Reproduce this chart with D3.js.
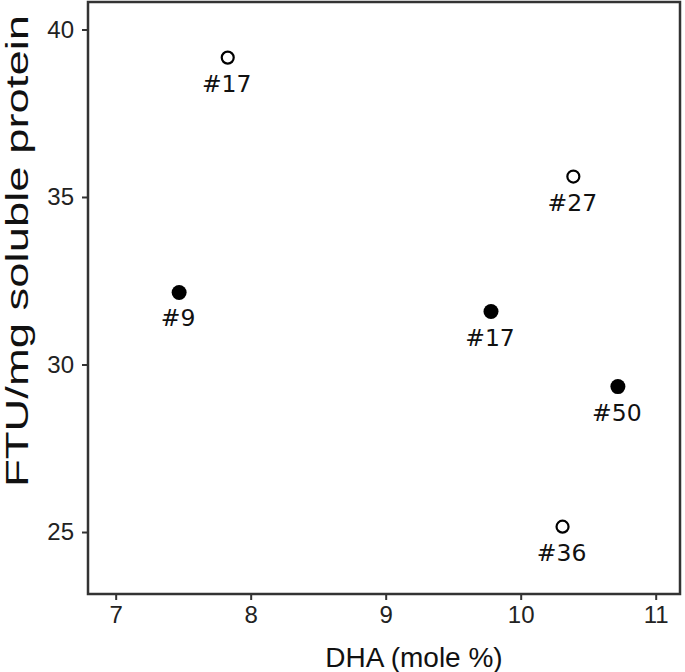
<!DOCTYPE html>
<html>
<head>
<meta charset="utf-8">
<script src="https://cdn.jsdelivr.net/npm/d3@7"></script>
<style>
  body { margin: 0; background: #fff; }
  svg { display: block; }
</style>
</head>
<body>
<svg id="chart" width="685" height="672"></svg>
<script>
// sample labels, DHA (mole %), FTU/mg soluble protein, open/filled marker
const sampleLabels = ['#17', '#9', '#27', '#17', '#50', '#36'];
const dhaValues = [7.83, 7.47, 10.39, 9.78, 10.72, 10.31];
const ftuValues = [39.16, 32.15, 35.61, 31.58, 29.34, 25.16];
const filledFlags = [false, true, false, true, true, false];
const xTicks = [7, 8, 9, 10, 11];
const yTicks = [25, 30, 35, 40];

const points = sampleLabels.map((label, i) => ({
  label: label,
  dha: dhaValues[i],
  ftu: ftuValues[i],
  filled: filledFlags[i]
}));

const svg = d3.select('#chart');
const width = 685;
const height = 672;
const margin = { top: 2, right: 5, bottom: 78, left: 88 };
const innerW = width - margin.left - margin.right;
const innerH = height - margin.top - margin.bottom;

const g = svg.append('g')
  .attr('transform', `translate(${margin.left},${margin.top})`);

const x = d3.scaleLinear().domain([6.795, 11.18]).range([0, innerW]);
const y = d3.scaleLinear().domain([23.15, 40.82]).range([innerH, 0]);

const axisColor = '#333333';

// x axis
const xAxis = g.append('g')
  .attr('transform', `translate(0,${innerH})`)
  .call(d3.axisBottom(x).tickValues(xTicks).tickFormat(d3.format('d')).tickSize(6).tickPadding(6));
xAxis.select('.domain').remove();
xAxis.selectAll('line').attr('stroke', axisColor).attr('stroke-width', 2);
xAxis.selectAll('text')
  .attr('fill', '#222')
  .style('font-family', '"Liberation Sans", Arial, sans-serif')
  .style('font-size', '24px');

// y axis
const yAxis = g.append('g')
  .call(d3.axisLeft(y).tickValues(yTicks).tickFormat(d3.format('d')).tickSize(6).tickPadding(8));
yAxis.select('.domain').remove();
yAxis.selectAll('line').attr('stroke', axisColor).attr('stroke-width', 2);
yAxis.selectAll('text')
  .attr('fill', '#222')
  .style('font-family', '"Liberation Sans", Arial, sans-serif')
  .style('font-size', '24px');

// panel border
g.append('rect')
  .attr('x', 0)
  .attr('y', 0)
  .attr('width', innerW)
  .attr('height', innerH)
  .attr('fill', 'none')
  .attr('stroke', axisColor)
  .attr('stroke-width', 2.5);

// points
g.selectAll('.pt')
  .data(points)
  .enter()
  .append('circle')
  .attr('class', 'pt')
  .attr('cx', d => x(d.dha))
  .attr('cy', d => y(d.ftu))
  .attr('r', d => d.filled ? 7.5 : 6)
  .attr('fill', d => d.filled ? '#000' : '#fff')
  .attr('stroke', '#000')
  .attr('stroke-width', d => d.filled ? 0 : 2.2);

// point labels
g.selectAll('.lbl')
  .data(points)
  .enter()
  .append('text')
  .attr('class', 'lbl')
  .attr('x', d => x(d.dha) - 1)
  .attr('y', d => y(d.ftu) + 34)
  .attr('text-anchor', 'middle')
  .attr('fill', '#111')
  .style('font-family', '"DejaVu Sans", sans-serif')
  .style('font-size', '23.5px')
  .text(d => d.label);

// axis titles
svg.append('text')
  .attr('x', 414)
  .attr('y', 667)
  .attr('text-anchor', 'middle')
  .attr('fill', '#111')
  .style('font-family', '"Liberation Sans", Arial, sans-serif')
  .style('font-size', '28px')
  .text('DHA (mole %)');

// the y title in the source runs long, so fit it to its span
svg.append('text')
  .attr('transform', 'translate(28,251) rotate(-90)')
  .attr('x', -236)
  .attr('textLength', 472)
  .attr('lengthAdjust', 'spacingAndGlyphs')
  .attr('fill', '#111')
  .style('font-family', '"Liberation Sans", Arial, sans-serif')
  .style('font-size', '31px')
  .text('FTU/mg soluble protein');
</script>
</body>
</html>
